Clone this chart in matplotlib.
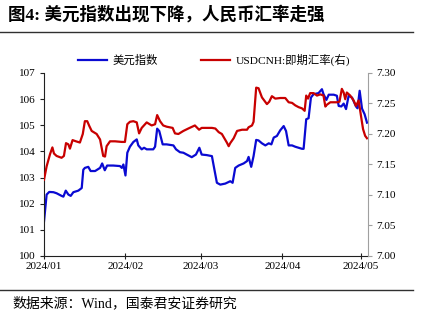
import matplotlib
matplotlib.use("Agg")
import matplotlib.pyplot as plt
import matplotlib.dates as mdates
from matplotlib.lines import Line2D
import pandas as pd

plt.rcParams['font.family'] = ['Liberation Serif', 'Noto Sans CJK SC']
plt.rcParams['axes.unicode_minus'] = False

# days since 2024-01-01, dollar index (left axis)
usd_day = [0, 1.0, 2.0, 3.6, 4.8, 6.7, 7.4, 8.3, 9.3, 10.2,
           11.2, 13.1, 14.4, 15.0, 15.6, 16.9, 17.8, 19.5, 21.4, 22.2,
           23.2, 24.1, 26.4, 29.0, 29.7, 30.3, 31.1, 31.8, 32.8, 34.1,
           35.4, 36.0, 37.3, 38.2, 39.2, 41.7, 42.4, 43.2, 44.0, 45.3,
           46.8, 49.4, 50.4, 51.9, 53.2, 54.5, 56.4, 58.0, 59.3, 60.2,
           62.1, 64.1, 64.8, 66.0, 67.3, 69.2, 71.1, 72.0, 73.0, 74.3,
           76.2, 77.5, 78.1, 79.1, 80.0, 81.0, 81.9, 83.2, 84.5, 85.8,
           86.8, 87.7, 88.9, 90.2, 91.5, 92.4, 93.4, 94.7, 95.9, 97.2,
           98.5, 99.1, 100.1, 101.0, 101.9, 102.9, 104.8, 106.1, 106.7, 107.8,
           108.7, 110.6, 111.8, 112.5, 113.5, 114.4, 115.3, 116.3, 117.6, 119.1,
           119.7, 120.5, 121.4, 122.4, 123.3]
usd_val = [101.32, 102.35, 102.45, 102.44, 102.40, 102.30, 102.27, 102.50, 102.35, 102.30,
           102.44, 102.50, 102.60, 103.30, 103.37, 103.41, 103.25, 103.25, 103.37, 103.54,
           103.28, 103.46, 103.46, 103.44, 103.37, 103.50, 103.08, 103.95, 104.18, 104.36,
           104.46, 104.23, 104.08, 104.14, 104.08, 104.08, 104.18, 104.87, 104.78, 104.27,
           104.27, 104.23, 104.08, 103.97, 103.95, 103.88, 103.78, 103.88, 104.14, 103.88,
           103.86, 103.82, 103.44, 102.80, 102.73, 102.77, 102.86, 102.80, 103.37, 103.46,
           103.54, 103.63, 103.79, 103.41, 103.82, 104.44, 104.42, 104.31, 104.23, 104.31,
           104.27, 104.53, 104.59, 104.81, 104.97, 104.78, 104.23, 104.23, 104.18, 104.14,
           104.10, 104.10, 105.23, 105.27, 106.06, 106.19, 106.23, 106.38, 106.19, 105.97,
           106.17, 106.17, 106.13, 105.74, 105.72, 105.83, 105.62, 106.13, 106.06, 105.72,
           105.65, 106.32, 105.64, 105.42, 105.10]

# days since 2024-01-01, USDCNH spot (right axis)
cnh_day = [0, 1.0, 2.3, 3.2, 3.8, 4.8, 6.7, 7.6, 8.4, 9.3,
           9.9, 10.9, 12.2, 13.7, 14.8, 15.6, 16.5, 17.3, 18.2, 20.1,
           21.4, 22.6, 23.3, 23.9, 25.2, 27.1, 29.7, 30.9, 31.8, 32.8,
           34.1, 35.4, 36.3, 37.3, 39.2, 41.1, 42.4, 43.2, 44.3, 45.5,
           46.8, 49.1, 50.0, 51.3, 53.2, 55.1, 57.6, 59.2, 60.2, 64.1,
           65.4, 66.7, 67.9, 69.8, 70.5, 71.1, 72.4, 73.7, 75.6, 77.5,
           78.1, 79.4, 80.0, 81.0, 81.9, 83.2, 85.1, 86.0, 87.0, 88.3,
           90.2, 92.1, 93.4, 94.7, 95.9, 97.2, 98.5, 99.5, 100.1, 100.8,
           101.6, 102.9, 104.2, 105.5, 106.7, 107.4, 108.0, 109.3, 111.8, 112.8,
           113.7, 114.4, 115.0, 115.6, 116.9, 118.2, 119.1, 120.1, 121.0, 121.8,
           122.6, 123.3]
cnh_val = [7.125, 7.147, 7.167, 7.178, 7.168, 7.164, 7.161, 7.164, 7.185, 7.183,
           7.176, 7.190, 7.188, 7.186, 7.200, 7.221, 7.221, 7.213, 7.205, 7.200,
           7.191, 7.164, 7.163, 7.180, 7.188, 7.188, 7.187, 7.187, 7.216, 7.220,
           7.221, 7.219, 7.201, 7.210, 7.219, 7.214, 7.216, 7.231, 7.221, 7.214,
           7.212, 7.210, 7.201, 7.200, 7.205, 7.209, 7.214, 7.207, 7.210, 7.210,
           7.209, 7.203, 7.200, 7.186, 7.180, 7.185, 7.193, 7.205, 7.207, 7.207,
           7.211, 7.214, 7.220, 7.276, 7.275, 7.260, 7.249, 7.253, 7.262, 7.258,
           7.259, 7.259, 7.252, 7.251, 7.247, 7.244, 7.242, 7.238, 7.263, 7.258,
           7.267, 7.267, 7.263, 7.265, 7.263, 7.245, 7.248, 7.252, 7.252, 7.253,
           7.274, 7.268, 7.257, 7.268, 7.263, 7.255, 7.246, 7.255, 7.230, 7.208,
           7.197, 7.193]

month_ticks = ['2024-01-01', '2024-02-01', '2024-03-01', '2024-04-01', '2024-05-01']

base = pd.Timestamp('2024-01-01')
usd_dates = base + pd.to_timedelta(usd_day, unit='D')
cnh_dates = base + pd.to_timedelta(cnh_day, unit='D')

BLUE = '#0a0ad2'
RED = '#c80000'

fig = plt.figure(figsize=(4.24, 3.24), dpi=100)
ax = fig.add_axes([0.1038, 0.2099, 0.7642, 0.5648])
ax2 = ax.twinx()

ax.plot(usd_dates, usd_val, color=BLUE, lw=1.6, solid_joinstyle='round')
ax2.plot(cnh_dates, cnh_val, color=RED, lw=1.6, solid_joinstyle='round')

ax.set_ylim(100, 107)
ax.set_yticks(range(100, 108))
ax2.set_ylim(7.00, 7.30)
ax2.set_yticks([7.00, 7.05, 7.10, 7.15, 7.20, 7.25, 7.30])
ax2.yaxis.set_major_formatter(matplotlib.ticker.FormatStrFormatter('%.2f'))

ax.set_xlim(base, base + pd.Timedelta(days=123.7))
ax.set_xticks(pd.to_datetime(month_ticks))
ax.xaxis.set_major_formatter(mdates.DateFormatter('%Y/%m'))

for a in (ax, ax2):
    a.spines['top'].set_visible(False)
ax.spines['right'].set_visible(False)
ax2.spines['left'].set_visible(False)
ax2.spines['bottom'].set_visible(False)
ax2.spines['right'].set_color('#a0a0a0')
ax.spines['left'].set_color('#202020')
ax.spines['bottom'].set_color('#202020')

ax.tick_params(axis='y', direction='out', length=3, labelsize=8, pad=3, color='#202020')
ax.tick_params(axis='x', direction='inout', length=4, labelsize=8, pad=2, color='#202020')
ax2.tick_params(axis='y', direction='out', length=3, labelsize=8, pad=3, color='#a0a0a0')

handles = [Line2D([], [], color=BLUE, lw=1.6), Line2D([], [], color=RED, lw=1.6)]
fig.legend(handles, ['美元指数', 'USDCNH:即期汇率(右)'], loc='center',
           bbox_to_anchor=(0.505, 0.815), ncol=2, frameon=False, fontsize=8.2,
           handlelength=2.5, columnspacing=3.8, handletextpad=0.5)

fig.text(0.02, 0.955, '图4: 美元指数出现下降，人民币汇率走强', fontsize=12.6,
         fontweight='bold', va='center', ha='left')
fig.add_artist(Line2D([0.0, 0.975], [0.901, 0.901], color='#303030', lw=1.0))
fig.add_artist(Line2D([0.0, 0.975], [0.105, 0.105], color='#303030', lw=1.0))
fig.text(0.03, 0.065, '数据来源：Wind，国泰君安证券研究', fontsize=10,
         va='center', ha='left')

fig.savefig('out.png', dpi=100)
